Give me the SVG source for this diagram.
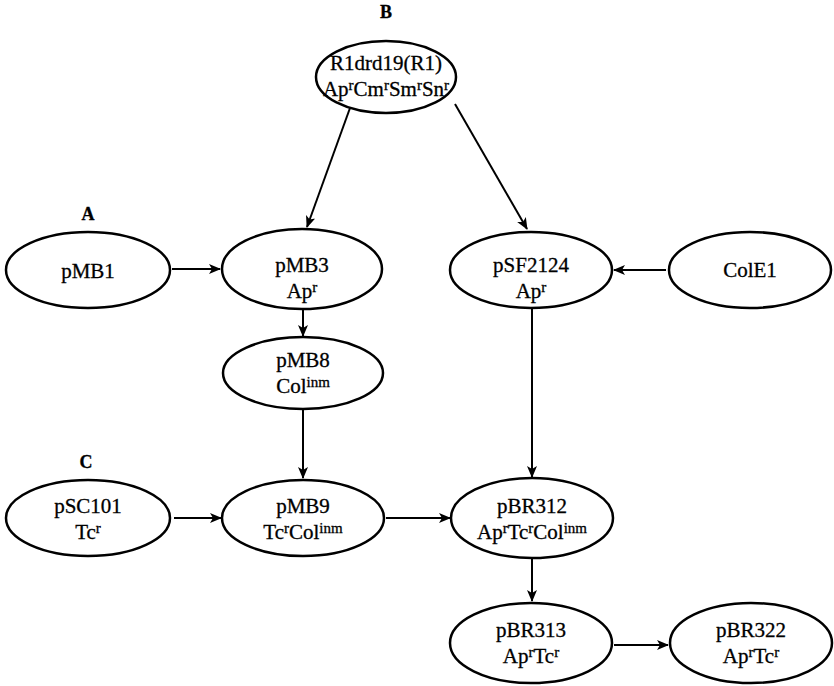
<svg xmlns="http://www.w3.org/2000/svg" width="834" height="686" viewBox="0 0 834 686">
<defs>
<marker id="ah" viewBox="0 0 12 10" refX="11" refY="5" markerWidth="12" markerHeight="10" markerUnits="userSpaceOnUse" orient="auto">
<path d="M0,0 L12,5 L0,10 L3,5 z" fill="#000"/>
</marker>
<style>
ellipse{fill:#fff;stroke:#000;stroke-width:2.5}
text{font-family:"Liberation Serif","Times New Roman",serif;font-size:21px;text-anchor:middle;fill:#000;stroke:#000;stroke-width:0.3}
.lab{font-weight:bold;font-size:18px}
.sup{font-size:15px}
#edges line{stroke:#000;stroke-width:2;marker-end:url(#ah)}
</style>
</defs>
<rect width="834" height="686" fill="#fff"/>
<text class="lab" x="88" y="220">A</text>
<text class="lab" x="386" y="18">B</text>
<text class="lab" x="86" y="468">C</text>
<g id="edges">
<line x1="350" y1="108" x2="307" y2="227"/>
<line x1="455" y1="104" x2="527" y2="229"/>
<line x1="172" y1="269" x2="220" y2="269"/>
<line x1="666" y1="270" x2="614" y2="270"/>
<line x1="303" y1="310" x2="303" y2="336"/>
<line x1="303" y1="410" x2="303" y2="478"/>
<line x1="532" y1="309" x2="532" y2="477"/>
<line x1="174" y1="518" x2="221" y2="518"/>
<line x1="386" y1="518" x2="450" y2="518"/>
<line x1="532" y1="559" x2="532" y2="601"/>
<line x1="614" y1="645" x2="668" y2="645"/>
</g>
<g id="R1">
<ellipse cx="386" cy="77" rx="70" ry="36"/>
<text x="386" y="70">R1drd19(R1)</text>
<text x="386" y="96">Ap<tspan class="sup" dy="-6">r</tspan><tspan dy="6">Cm</tspan><tspan class="sup" dy="-6">r</tspan><tspan dy="6">Sm</tspan><tspan class="sup" dy="-6">r</tspan><tspan dy="6">Sn</tspan><tspan class="sup" dy="-6">r</tspan></text>
</g>
<g id="pMB1">
<ellipse cx="88" cy="270" rx="82" ry="38"/>
<text x="88" y="278">pMB1</text>
</g>
<g id="pMB3">
<ellipse cx="302" cy="269" rx="80" ry="40"/>
<text x="302" y="272">pMB3</text>
<text x="302" y="298">Ap<tspan class="sup" dy="-6">r</tspan></text>
</g>
<g id="pSF2124">
<ellipse cx="531" cy="270" rx="81" ry="38"/>
<text x="531" y="272">pSF2124</text>
<text x="531" y="298">Ap<tspan class="sup" dy="-6">r</tspan></text>
</g>
<g id="ColE1">
<ellipse cx="750" cy="270" rx="81" ry="38"/>
<text x="750" y="277">ColE1</text>
</g>
<g id="pMB8">
<ellipse cx="303" cy="373" rx="80" ry="36"/>
<text x="303" y="367">pMB8</text>
<text x="303" y="393">Col<tspan class="sup" dy="-6">inm</tspan></text>
</g>
<g id="pSC101">
<ellipse cx="88" cy="518" rx="82" ry="38"/>
<text x="88" y="513">pSC101</text>
<text x="88" y="539">Tc<tspan class="sup" dy="-6">r</tspan></text>
</g>
<g id="pMB9">
<ellipse cx="303" cy="518" rx="81" ry="38"/>
<text x="303" y="513">pMB9</text>
<text x="303" y="539">Tc<tspan class="sup" dy="-6">r</tspan><tspan dy="6">Col</tspan><tspan class="sup" dy="-6">inm</tspan></text>
</g>
<g id="pBR312">
<ellipse cx="532" cy="518" rx="81" ry="40"/>
<text x="532" y="513">pBR312</text>
<text x="532" y="539">Ap<tspan class="sup" dy="-6">r</tspan><tspan dy="6">Tc</tspan><tspan class="sup" dy="-6">r</tspan><tspan dy="6">Col</tspan><tspan class="sup" dy="-6">inm</tspan></text>
</g>
<g id="pBR313">
<ellipse cx="531" cy="643" rx="81" ry="40"/>
<text x="531" y="637">pBR313</text>
<text x="531" y="663">Ap<tspan class="sup" dy="-6">r</tspan><tspan dy="6">Tc</tspan><tspan class="sup" dy="-6">r</tspan></text>
</g>
<g id="pBR322">
<ellipse cx="751" cy="643" rx="81" ry="40"/>
<text x="751" y="637">pBR322</text>
<text x="751" y="663">Ap<tspan class="sup" dy="-6">r</tspan><tspan dy="6">Tc</tspan><tspan class="sup" dy="-6">r</tspan></text>
</g>
</svg>
